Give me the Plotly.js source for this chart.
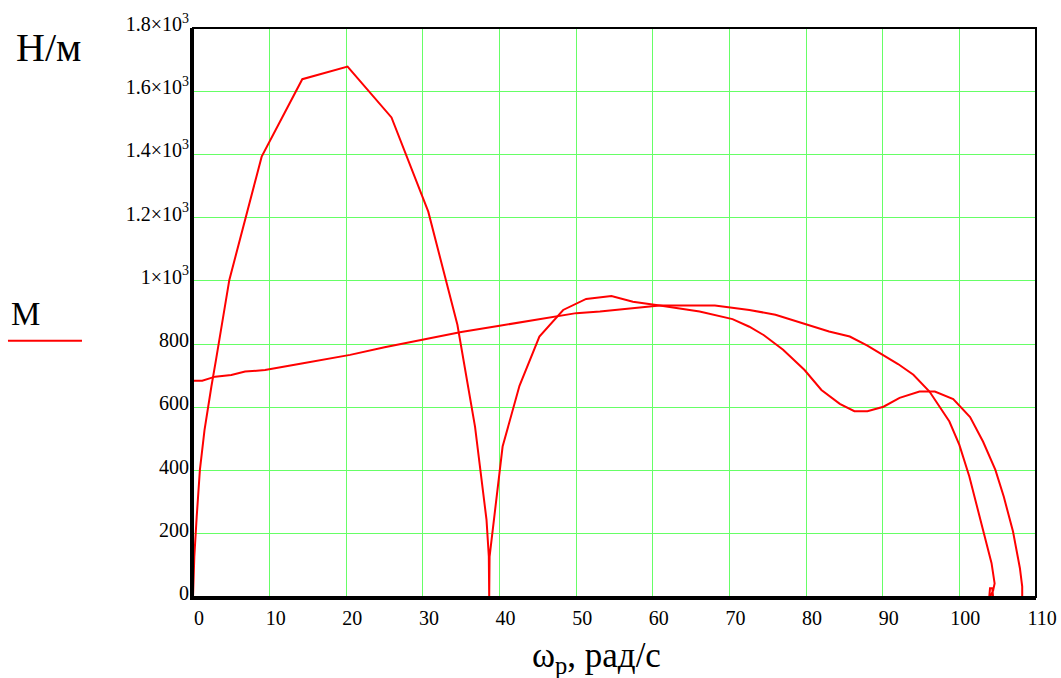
<!DOCTYPE html>
<html>
<head>
<meta charset="utf-8">
<script src="https://cdn.plot.ly/plotly-3.0.1.min.js"></script>
<style>html,body{margin:0;padding:0;background:#fff;}#chart{width:1061px;height:678px;}</style>
</head>
<body>
<div id="chart"></div>
<script>
// Curve 1 (peaked curve)
var omega1 = [0, 0.17, 0.48, 0.9, 1.5, 1.9, 2.4, 3.0, 4.74, 8.96, 14.26, 20.17, 25.9, 30.7, 34.5, 36.8, 38.3, 38.6, 38.65, 38.7, 39.26, 40.4, 42.6, 45.2, 48.3, 51.3, 54.6, 57.4, 60.9, 66.1, 70.4, 72.6, 74.5, 77, 79.8, 82, 84.4, 86.3, 88, 90.1, 92.2, 94.8, 96.8, 99.2, 101.4, 103.1, 104.7, 105.8, 107, 107.9, 108.2, 108.2];
var M1 = [0, 127, 253, 402, 528, 592, 666, 750, 1003, 1393, 1638, 1678, 1517, 1219, 861, 539, 244, 128, 0, 128, 244, 476, 668, 824, 908, 943, 952, 934, 922, 903, 879, 855, 828, 782, 718, 655, 611, 588, 588, 602, 630, 650, 650, 626, 569, 491, 402, 317, 207, 91, 33, 0];
// Curve 2 (nearly linear, staircase curve)
var omega2 = [0, 1.2, 2.9, 5, 6.8, 9.4, 14, 20.5, 25, 29.6, 35, 40, 45, 50, 53.1, 57.2, 60.9, 68.1, 72.6, 76, 80, 83, 85.7, 88, 90, 92, 94, 96.1, 98.7, 100, 101.3, 102.2, 103.3, 104.2, 104.6, 104.4, 104.1, 103.9, 104.0, 104.3, 104.4];
var M2 = [684, 684, 697, 702, 713, 718, 738, 766, 790, 812, 838, 858, 878, 898, 903, 913, 922, 922, 908, 893, 862, 840, 824, 795, 766, 737, 703, 650, 555, 481, 381, 297, 191, 107, 43, 20, 5, 0, 28, 28, 0];

var xTicks = [0, 10, 20, 30, 40, 50, 60, 70, 80, 90, 100, 110];
var yTicks = [0, 200, 400, 600, 800, 1000, 1200, 1400, 1600, 1800];
var yTickText = ['0', '200', '400', '600', '800', '1×10<sup>3</sup>', '1.2×10<sup>3</sup>', '1.4×10<sup>3</sup>', '1.6×10<sup>3</sup>', '1.8×10<sup>3</sup>'];

var serif = 'Liberation Serif';
var red = '#ff0000';

var traces = [
  {x: omega1, y: M1, mode: 'lines', line: {color: red, width: 2}, showlegend: false, hoverinfo: 'x+y'},
  {x: omega2, y: M2, mode: 'lines', line: {color: red, width: 2}, showlegend: false, hoverinfo: 'x+y'}
];

var layout = {
  width: 1061, height: 678,
  margin: {l: 193, r: 25, t: 28, b: 81},
  paper_bgcolor: '#fff', plot_bgcolor: '#fff',
  font: {family: serif, color: '#000', size: 20},
  xaxis: {
    range: [0, 110], tickvals: xTicks, ticktext: xTicks.map(String),
    showgrid: true, gridcolor: '#66ff66', gridwidth: 1,
    zeroline: false, showline: true, linecolor: '#000', linewidth: 3,
    ticks: '', ticklabelshift: 6, ticklabelstandoff: 1,
    tickfont: {family: serif, size: 20, color: '#000'}
  },
  yaxis: {
    range: [0, 1800], tickvals: yTicks, ticktext: yTickText,
    showgrid: true, gridcolor: '#66ff66', gridwidth: 1,
    zeroline: false, showline: true, linecolor: '#000', linewidth: 3,
    ticks: '', ticklabelshift: -4, ticklabelstandoff: -3,
    tickfont: {family: serif, size: 20, color: '#000'}
  },
  shapes: [
    {type: 'rect', xref: 'paper', yref: 'paper', x0: 0, x1: 1, y0: 0, y1: 1, line: {color: '#000', width: 2}, layer: 'above'},
    {type: 'line', xref: 'paper', yref: 'paper', x0: -0.2195, x1: -0.1317, y0: 0.4504, y1: 0.4504, line: {color: red, width: 2}}
  ],
  annotations: [
    {xref: 'paper', yref: 'paper', x: -0.2125, y: 0.965, xanchor: 'left', yanchor: 'middle', showarrow: false,
     text: 'Н/м', font: {family: serif, size: 40, color: '#000'}},
    {xref: 'paper', yref: 'paper', x: -0.218, y: 0.497, xanchor: 'left', yanchor: 'middle', showarrow: false,
     text: 'М', font: {family: serif, size: 33, color: '#000'}},
    {xref: 'paper', yref: 'paper', x: 0.479, y: -0.107, xanchor: 'center', yanchor: 'middle', showarrow: false,
     text: 'ω<sub>р</sub>, рад/с', font: {family: serif, size: 35, color: '#000'}}
  ]
};

Plotly.newPlot('chart', traces, layout, {displayModeBar: false, staticPlot: true});
</script>
</body>
</html>
